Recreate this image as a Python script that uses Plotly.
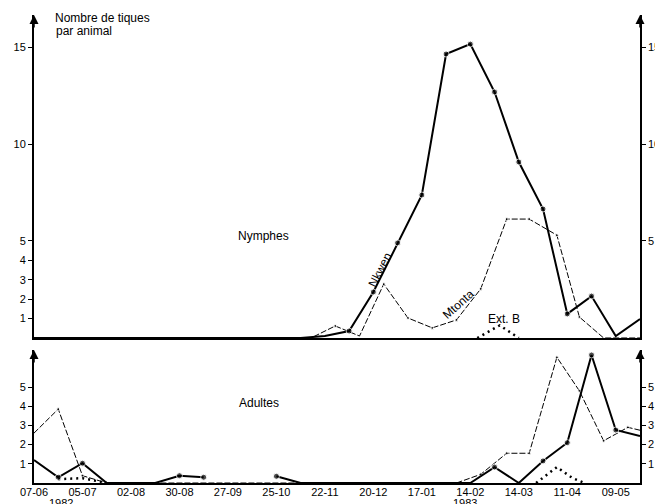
import plotly.graph_objects as go

# Fortnightly sampling at Nkwen, 7 June 1982 -> 23 May 1983
nkwen_dates = [
    "1982-06-07", "1982-06-21", "1982-07-05", "1982-07-19", "1982-08-02", "1982-08-16",
    "1982-08-30", "1982-09-13", "1982-09-27", "1982-10-11", "1982-10-25", "1982-11-08",
    "1982-11-22", "1982-12-06", "1982-12-20", "1983-01-03", "1983-01-17", "1983-01-31",
    "1983-02-14", "1983-02-28", "1983-03-14", "1983-03-28", "1983-04-11", "1983-04-25",
    "1983-05-09", "1983-05-23",
]
nkwen_nymphs = [0, 0, 0, 0, 0, 0, 0, 0, 0, 0, 0, 0,
                0.1, 0.36, 2.37, 4.9, 7.37, 14.64, 15.15, 12.68, 9.07, 6.65, 1.24, 2.16, 0.1, 0.98]
nkwen_adults = [1.2, 0.3, 1.03, 0, 0, 0, 0.38, 0.3, None, None, 0.35, 0,
                0, 0, 0, 0, 0, 0, 0, 0.83, 0, 1.15, 2.1, 6.67, 2.76, 2.45]

# Mtonta sampling dates
mtonta_dates = [
    "1982-06-07", "1982-06-21", "1982-07-05", "1982-07-19", "1982-08-08", "1982-08-22",
    "1982-09-05", "1982-09-19", "1982-10-03", "1982-10-17", "1982-10-31", "1982-11-14",
    "1982-11-28", "1982-12-12", "1982-12-26", "1983-01-09", "1983-01-23", "1983-02-06",
    "1983-02-20", "1983-03-07", "1983-03-20", "1983-04-05", "1983-04-18", "1983-05-02",
    "1983-05-16", "1983-05-23",
]
mtonta_nymphs = [0, 0, 0, 0, 0, 0, 0, 0, 0, 0, 0, 0,
                 0.62, 0.1, 2.78, 1.03, 0.52, 0.93, 2.53, 6.13, 6.13, 5.3, 1.08, 0, 0, 0]
mtonta_adults = [2.6, 3.85, 0.38, 0, 0, 0, 0, 0, 0, 0, 0, 0,
                 0, 0, 0, 0, 0, 0, 0.45, 1.55, 1.55, 6.55, 4.8, 2.2, 2.9, 2.75]

# Exterior site B
extb_dates = ["1982-06-07", "1982-06-21", "1982-07-05", "1982-07-19",
              "1983-02-18", "1983-03-03", "1983-03-14",
              "1983-03-24", "1983-04-05", "1983-04-14", "1983-04-21"]
extb_nymphs = [None, None, None, None, 0, 0.65, 0, None, None, None, None]
extb_adults = [None, 0.2, 0.25, 0, None, None, None, 0, 0.83, 0.26, 0]

tick_dates = ["1982-06-07", "1982-07-05", "1982-08-02", "1982-08-30", "1982-09-27",
              "1982-10-25", "1982-11-22", "1982-12-20", "1983-01-17", "1983-02-14",
              "1983-03-14", "1983-04-11", "1983-05-09"]
tick_labels = ["07-06", "05-07", "02-08", "30-08", "27-09", "25-10", "22-11",
               "20-12", "17-01", "14-02", "14-03", "11-04", "09-05"]

FONT = "Liberation Sans, Arial, sans-serif"
INK = "black"


def dot_sizes(values, size):
    last = len(values) - 1
    return [size if (v is not None and v > 0.2 and 0 < i < last) else 0
            for i, v in enumerate(values)]


fig = go.Figure()

panels = [
    ("x2", "y2", nkwen_nymphs, mtonta_nymphs, extb_nymphs),
    ("x", "y", nkwen_adults, mtonta_adults, extb_adults),
]
for xa, ya, nk, mt, eb in panels:
    fig.add_trace(go.Scatter(
        x=mtonta_dates, y=mt, xaxis=xa, yaxis=ya, mode="lines+markers",
        line=dict(color=INK, width=1, dash="6px,2px"),
        marker=dict(color=INK, size=dot_sizes(mt, 3)), cliponaxis=False,
        hoverinfo="skip"))
    fig.add_trace(go.Scatter(
        x=extb_dates, y=eb, xaxis=xa, yaxis=ya, mode="lines",
        line=dict(color=INK, width=2.5, dash="2px,4px"),
        hoverinfo="skip"))
    fig.add_trace(go.Scatter(
        x=nkwen_dates, y=nk, xaxis=xa, yaxis=ya, mode="lines+markers",
        line=dict(color=INK, width=2),
        marker=dict(color=INK, size=dot_sizes(nk, 6)), cliponaxis=False,
        hoverinfo="skip"))

# placeholders so the right-hand scales are drawn
fig.add_trace(go.Scatter(x=[nkwen_dates[0]], y=[None], xaxis="x2", yaxis="y3",
                         hoverinfo="skip", showlegend=False))
fig.add_trace(go.Scatter(x=[nkwen_dates[0]], y=[None], xaxis="x", yaxis="y4",
                         hoverinfo="skip", showlegend=False))

top_dom = [0.3066, 0.9894]
bot_dom = [0.0, 0.2812]
top_range = [0, 16.65]
bot_range = [0, 6.93]

yax_common = dict(showgrid=False, zeroline=False, showline=True, linecolor=INK,
                  ticks="outside", ticklen=4, tickwidth=1, tickcolor=INK,
                  tickfont=dict(family=FONT, size=11, color=INK), fixedrange=True,
                  automargin=False)

fig.update_layout(
    width=655, height=504,
    margin=dict(l=34, r=15, t=10, b=21, pad=0, autoexpand=False),
    paper_bgcolor="white", plot_bgcolor="white",
    showlegend=False,
    font=dict(family=FONT, size=12, color=INK),
    xaxis=dict(domain=[0, 1], anchor="y", type="date",
               range=[nkwen_dates[0], nkwen_dates[-1]],
               tickmode="array", tickvals=tick_dates, ticktext=tick_labels,
               ticks="", ticklabelstandoff=-2, showgrid=False, zeroline=False,
               automargin=False,
               showline=True, linecolor=INK, linewidth=2,
               tickfont=dict(family=FONT, size=11, color=INK)),
    xaxis2=dict(domain=[0, 1], anchor="y2", matches="x", type="date",
                showticklabels=False, ticks="", showgrid=False, zeroline=False,
                automargin=False, showline=True, linecolor=INK, linewidth=2),
    yaxis=dict(domain=bot_dom, anchor="x", range=bot_range,
               tickmode="array", tickvals=[1, 2, 3, 4, 5], linewidth=2, **yax_common),
    yaxis2=dict(domain=top_dom, anchor="x2", range=top_range,
                tickmode="array", tickvals=[1, 2, 3, 4, 5, 10, 15], linewidth=2,
                **yax_common),
    yaxis3=dict(overlaying="y2", side="right", anchor="x2", range=top_range,
                tickmode="array", tickvals=[5, 10, 15], linewidth=1.5, **yax_common),
    yaxis4=dict(overlaying="y", side="right", anchor="x", range=bot_range,
                tickmode="array", tickvals=[1, 2, 3, 4, 5], linewidth=1.5, **yax_common),
)

annotations = []
# arrow heads on the four vertical scales
for xp, ytop in [(0, top_dom[1]), (1, top_dom[1]), (0, bot_dom[1]), (1, bot_dom[1])]:
    annotations.append(dict(xref="paper", yref="paper", x=xp, y=ytop, text="",
                            showarrow=True, arrowhead=2, arrowsize=1.2, arrowwidth=1.5,
                            arrowcolor=INK, ax=0, ay=14))


def label(text, x, y, size=12, angle=0, xanchor="center"):
    annotations.append(dict(xref="paper", yref="paper", x=x, y=y, text=text,
                            showarrow=False, textangle=angle, xanchor=xanchor,
                            yanchor="middle",
                            font=dict(family=FONT, size=size, color=INK)))


label("Nombre de tiques", 0.031, 0.983, xanchor="left")
label("par animal", 0.033, 0.955, xanchor="left")
label("Nymphes", 0.378, 0.522)
label("Adultes", 0.372, 0.169)
label("Nkwen", 0.571, 0.450, angle=-63)
label("Mtonta", 0.701, 0.378, angle=-42)
label("Ext. B", 0.776, 0.347)
label("1982", 0.0446, -0.042, size=11)
label("1983", 0.711, -0.042, size=11)

fig.update_layout(annotations=annotations)

fig.write_html("out.html")
